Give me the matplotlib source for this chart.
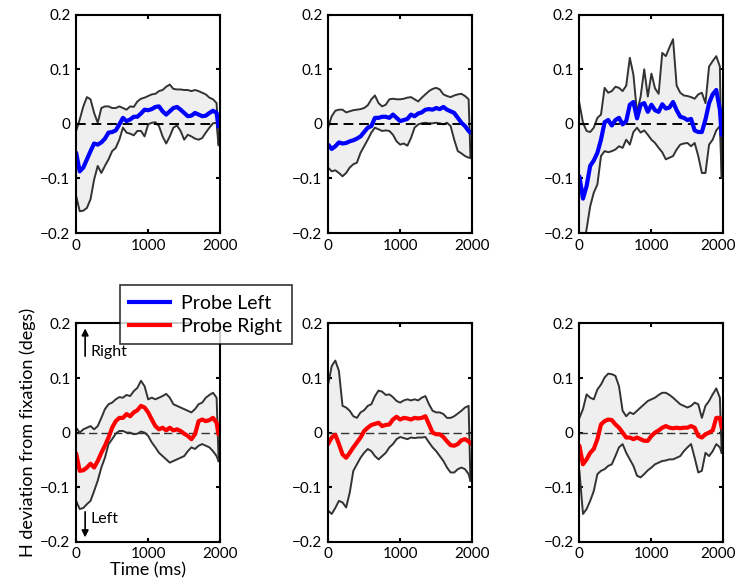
import numpy as np
import matplotlib
matplotlib.use("Agg")
import matplotlib.pyplot as plt
import matplotlib.transforms as mtransforms
from matplotlib.lines import Line2D

plt.rcParams['font.family'] = ['Lato', 'DejaVu Sans']
plt.rcParams['axes.unicode_minus'] = True

# time axis (ms), same for every panel
t = list(range(0, 2000, 50)) + [1975]

# top row: probe left (blue)
tl_mean = [-0.053, -0.087, -0.080, -0.065, -0.050, -0.036, -0.038, -0.034, -0.027, -0.016, -0.015, -0.012, -0.001, 0.011, 0.005, 0.008, 0.013, 0.013, 0.019, 0.026, 0.025, 0.027, 0.031, 0.032, 0.023, 0.017, 0.023, 0.029, 0.031, 0.026, 0.020, 0.014, 0.015, 0.020, 0.017, 0.014, 0.015, 0.020, 0.024, 0.020, -0.005]
tl_up = [-0.013, 0.008, 0.032, 0.049, 0.045, 0.020, 0.002, 0.029, 0.032, 0.032, 0.029, 0.029, 0.032, 0.029, 0.026, 0.032, 0.031, 0.041, 0.046, 0.048, 0.051, 0.054, 0.055, 0.060, 0.062, 0.068, 0.072, 0.064, 0.063, 0.063, 0.062, 0.062, 0.060, 0.062, 0.060, 0.057, 0.054, 0.048, 0.045, 0.038, -0.035]
tl_low = [-0.132, -0.160, -0.159, -0.154, -0.138, -0.102, -0.077, -0.090, -0.077, -0.065, -0.050, -0.044, -0.029, -0.007, -0.016, -0.018, -0.021, -0.013, -0.013, -0.023, -0.001, 0.002, 0.003, -0.004, -0.023, -0.036, -0.023, -0.007, -0.003, -0.013, -0.029, -0.020, -0.023, -0.027, -0.029, -0.026, -0.016, -0.007, 0.001, 0.002, -0.038]

tm_mean = [-0.038, -0.046, -0.041, -0.034, -0.036, -0.035, -0.032, -0.030, -0.027, -0.023, -0.015, -0.007, -0.004, 0.011, 0.011, 0.013, 0.013, 0.011, 0.017, 0.011, 0.005, 0.007, 0.009, 0.017, 0.014, 0.019, 0.021, 0.026, 0.027, 0.026, 0.029, 0.027, 0.031, 0.026, 0.023, 0.020, 0.011, 0.002, -0.004, -0.013, -0.016]
tm_up = [-0.007, 0.014, 0.024, 0.026, 0.026, 0.021, 0.023, 0.025, 0.026, 0.027, 0.029, 0.034, 0.045, 0.052, 0.038, 0.032, 0.035, 0.045, 0.046, 0.045, 0.045, 0.046, 0.048, 0.049, 0.045, 0.041, 0.048, 0.054, 0.060, 0.064, 0.066, 0.063, 0.054, 0.051, 0.049, 0.052, 0.054, 0.055, 0.051, 0.045, -0.059]
tm_low = [-0.080, -0.087, -0.085, -0.090, -0.096, -0.090, -0.080, -0.074, -0.071, -0.053, -0.041, -0.029, -0.016, -0.007, -0.010, -0.013, -0.012, -0.013, -0.020, -0.032, -0.038, -0.036, -0.040, -0.026, -0.007, -0.001, 0.001, 0.002, 0.001, 0.001, 0.002, 0.001, -0.001, 0.002, -0.004, -0.029, -0.050, -0.054, -0.059, -0.062, -0.062]

tr_mean = [-0.096, -0.137, -0.114, -0.077, -0.067, -0.053, -0.029, 0.003, 0.007, -0.003, 0.007, 0.011, -0.001, 0.005, 0.035, 0.040, 0.010, 0.035, 0.038, 0.022, 0.035, 0.025, 0.022, 0.036, 0.028, 0.030, 0.040, 0.025, 0.013, 0.011, 0.007, 0.009, -0.012, -0.015, -0.015, 0.008, 0.038, 0.054, 0.062, 0.026, -0.020]
tr_up = [0.038, 0.002, -0.013, -0.015, -0.007, 0.011, 0.017, 0.066, 0.057, 0.060, 0.068, 0.066, 0.060, 0.070, 0.121, 0.090, 0.020, 0.050, 0.100, 0.050, 0.092, 0.065, 0.055, 0.130, 0.124, 0.140, 0.155, 0.070, 0.057, 0.052, 0.051, 0.049, 0.046, 0.054, 0.057, 0.038, 0.105, 0.115, 0.124, 0.105, -0.099]
tr_low = [-0.260, -0.230, -0.193, -0.151, -0.126, -0.111, -0.059, -0.050, -0.052, -0.050, -0.047, -0.041, -0.044, -0.029, -0.038, -0.015, -0.007, -0.016, -0.012, -0.020, -0.029, -0.035, -0.044, -0.052, -0.065, -0.062, -0.059, -0.047, -0.038, -0.036, -0.035, -0.041, -0.035, -0.059, -0.090, -0.090, -0.038, -0.029, -0.012, -0.004, -0.096]

# bottom row: probe right (red)
bl_mean = [-0.038, -0.070, -0.069, -0.064, -0.057, -0.064, -0.052, -0.037, -0.024, -0.009, 0.009, 0.021, 0.027, 0.027, 0.034, 0.030, 0.037, 0.041, 0.049, 0.046, 0.037, 0.024, 0.012, 0.006, 0.009, 0.004, 0.009, 0.004, 0.006, 0.003, -0.002, -0.006, -0.012, -0.003, 0.021, 0.024, 0.021, 0.023, 0.027, 0.018, -0.003]
bl_up = [0.009, 0.000, 0.006, 0.009, 0.012, 0.006, 0.012, 0.027, 0.043, 0.052, 0.055, 0.061, 0.065, 0.064, 0.069, 0.067, 0.076, 0.082, 0.095, 0.085, 0.061, 0.064, 0.061, 0.064, 0.067, 0.071, 0.064, 0.052, 0.049, 0.046, 0.043, 0.040, 0.037, 0.043, 0.052, 0.055, 0.064, 0.069, 0.073, 0.064, -0.040]
bl_low = [-0.125, -0.140, -0.138, -0.131, -0.125, -0.107, -0.088, -0.064, -0.046, -0.021, -0.012, -0.002, 0.003, 0.003, 0.000, 0.000, -0.003, -0.002, 0.002, 0.000, -0.006, -0.018, -0.027, -0.037, -0.043, -0.049, -0.055, -0.052, -0.049, -0.046, -0.043, -0.034, -0.027, -0.030, -0.024, -0.021, -0.024, -0.027, -0.034, -0.043, -0.052]

bm_mean = [-0.021, -0.009, -0.004, -0.021, -0.040, -0.046, -0.037, -0.027, -0.018, -0.009, 0.003, 0.009, 0.014, 0.016, 0.018, 0.012, 0.014, 0.015, 0.024, 0.029, 0.024, 0.027, 0.026, 0.024, 0.027, 0.026, 0.027, 0.030, 0.015, 0.000, -0.003, -0.003, -0.008, -0.016, -0.023, -0.024, -0.021, -0.014, -0.012, -0.016, -0.020]
bm_up = [0.088, 0.122, 0.132, 0.113, 0.049, 0.046, 0.040, 0.030, 0.027, 0.037, 0.041, 0.049, 0.052, 0.067, 0.077, 0.075, 0.069, 0.070, 0.065, 0.058, 0.055, 0.059, 0.061, 0.059, 0.061, 0.059, 0.064, 0.067, 0.052, 0.040, 0.037, 0.037, 0.034, 0.027, 0.027, 0.030, 0.035, 0.040, 0.046, 0.049, -0.088]
bm_low = [-0.143, -0.149, -0.138, -0.125, -0.128, -0.137, -0.110, -0.070, -0.058, -0.046, -0.037, -0.030, -0.034, -0.043, -0.049, -0.043, -0.037, -0.027, -0.021, -0.012, -0.008, -0.010, -0.012, -0.009, -0.010, -0.009, -0.009, -0.008, -0.018, -0.027, -0.034, -0.043, -0.052, -0.064, -0.073, -0.073, -0.067, -0.064, -0.067, -0.076, -0.088]

br_mean = [-0.024, -0.058, -0.049, -0.037, -0.030, -0.012, 0.015, 0.021, 0.024, 0.023, 0.015, 0.009, 0.000, -0.009, -0.009, -0.012, -0.009, -0.012, -0.015, -0.015, -0.006, 0.000, 0.004, 0.009, 0.012, 0.009, 0.008, 0.009, 0.008, 0.009, 0.009, 0.012, 0.009, -0.006, -0.009, -0.003, 0.000, 0.004, 0.027, 0.027, 0.009]
br_up = [0.027, 0.043, 0.070, 0.064, 0.061, 0.079, 0.088, 0.101, 0.108, 0.107, 0.104, 0.085, 0.040, 0.030, 0.037, 0.034, 0.040, 0.046, 0.052, 0.058, 0.061, 0.064, 0.069, 0.073, 0.073, 0.069, 0.064, 0.058, 0.052, 0.049, 0.046, 0.049, 0.055, 0.052, 0.027, 0.049, 0.058, 0.070, 0.081, 0.064, -0.037]
br_low = [-0.070, -0.149, -0.140, -0.125, -0.107, -0.076, -0.070, -0.067, -0.061, -0.058, -0.043, -0.027, -0.021, -0.037, -0.049, -0.061, -0.079, -0.082, -0.076, -0.069, -0.064, -0.058, -0.055, -0.052, -0.051, -0.049, -0.049, -0.046, -0.043, -0.034, -0.027, -0.021, -0.046, -0.073, -0.070, -0.037, -0.043, -0.034, -0.021, -0.027, -0.037]

panels = [
    (tl_mean, tl_up, tl_low, 'blue'), (tm_mean, tm_up, tm_low, 'blue'), (tr_mean, tr_up, tr_low, 'blue'),
    (bl_mean, bl_up, bl_low, 'red'), (bm_mean, bm_up, bm_low, 'red'), (br_mean, br_up, br_low, 'red'),
]

fig = plt.figure(figsize=(7.39, 5.87), dpi=100)

lefts = [0.103, 0.444, 0.784]
bottoms = [0.603, 0.077]
w, h = 0.195, 0.372

axes = []
for i, (m, up, lo, col) in enumerate(panels):
    row, c = divmod(i, 3)
    ax = fig.add_axes([lefts[c], bottoms[row], w, h])
    ax.fill_between(t, lo, up, color='#efefef', lw=0)
    ax.plot(t, up, color='#333333', lw=1.4)
    ax.plot(t, lo, color='#333333', lw=1.4)
    ax.plot([t[-1], t[-1]], [lo[-1], up[-1]], color='#333333', lw=1.0)
    if row == 0:
        ax.axhline(0, color='black', ls=(0, (5, 3)), lw=1.4)
    else:
        ax.axhline(0, color='#333333', ls=(0, (6, 3)), lw=1.0)
    ax.plot(t, m, color=col, lw=3, solid_capstyle='round')
    ax.set_xlim(0, 2000)
    ax.set_ylim(-0.2, 0.2)
    ax.set_xticks([0, 1000, 2000])
    ax.set_yticks([-0.2, -0.1, 0, 0.1, 0.2])
    ax.set_yticklabels(['\u22120.2', '\u22120.1', '0', '0.1', '0.2'])
    ax.tick_params(direction='in', length=3, width=1.5, top=True, right=True, labelsize=11, pad=4)
    for s in ax.spines.values():
        s.set_linewidth(1.5)
    if c == 2:
        # keep "2000" inside the figure
        lab = ax.get_xticklabels()[-1]
        lab.set_transform(lab.get_transform() + mtransforms.ScaledTranslation(-4 / 72, 0, fig.dpi_scale_trans))
    axes.append(ax)

handles = [Line2D([], [], color='blue', lw=3), Line2D([], [], color='red', lw=3)]
leg = fig.legend(handles, ['Probe Left', 'Probe Right'], loc='upper left',
                 bbox_to_anchor=(0.162, 0.5145), borderaxespad=0, fontsize=14,
                 frameon=True, fancybox=False, edgecolor='black', handlelength=2.1,
                 borderpad=0.5, labelspacing=0.3, handletextpad=0.55)
leg.get_frame().set_linewidth(1.2)

ax = axes[3]
ax.set_ylabel('H deviation from fixation (degs)', fontsize=13, labelpad=3)
ax.set_xlabel('Time (ms)', fontsize=13, labelpad=1)
ax.annotate('', xy=(125, 0.196), xytext=(125, 0.135),
            arrowprops=dict(arrowstyle='-|>', color='black', lw=1.2, mutation_scale=10))
ax.text(200, 0.147, 'Right', fontsize=11.5, va='center', ha='left')
ax.annotate('', xy=(125, -0.197), xytext=(125, -0.14),
            arrowprops=dict(arrowstyle='-|>', color='black', lw=1.2, mutation_scale=10))
ax.text(200, -0.158, 'Left', fontsize=11.5, va='center', ha='left')

plt.savefig('out.png', dpi=100)
